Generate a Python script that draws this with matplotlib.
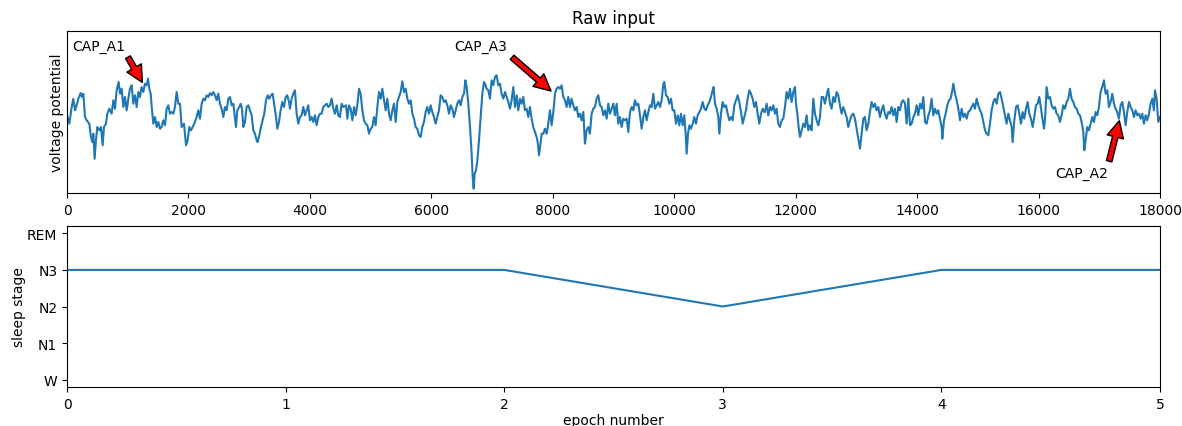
import matplotlib
matplotlib.use("Agg")
import matplotlib.pyplot as plt
import numpy as np

# ---------------- data ----------------
sample_idx = [
    0, 38, 77, 104, 132, 159, 187, 225, 247, 269, 296, 324, 368, 390, 417, 434, 455, 477, 499, 532,
    560, 587, 609, 642, 664, 697, 735, 763, 790, 818, 851, 873, 900, 928, 955, 983, 1010, 1037, 1065, 1092,
    1120, 1147, 1175, 1202, 1229, 1257, 1284, 1312, 1334, 1356, 1378, 1400, 1422, 1449, 1477, 1504, 1531, 1559, 1586, 1614,
    1641, 1669, 1696, 1723, 1751, 1778, 1806, 1833, 1861, 1888, 1927, 1960, 1987, 2014, 2042, 2069, 2097, 2135, 2163, 2190,
    2218, 2245, 2272,
    2300, 2327, 2355, 2382, 2410, 2437, 2464, 2492, 2519, 2547, 2574, 2602, 2629, 2657, 2684, 2711, 2739, 2755, 2783, 2805,
    2838, 2860, 2882, 2904, 2931, 2958, 2986, 3013, 3041, 3068, 3096, 3123, 3140, 3167, 3194, 3222, 3249, 3277, 3304, 3332,
    3359, 3387, 3414, 3442, 3463, 3491, 3518, 3546, 3573, 3601, 3628, 3656, 3672, 3699, 3727, 3754, 3782, 3809, 3837, 3864,
    3892, 3919, 3946, 3974, 4001, 4029, 4056, 4084, 4111, 4139, 4166, 4193, 4221, 4248, 4276, 4303, 4331, 4358, 4386, 4413,
    4441, 4468, 4495, 4523, 4550,
    4595, 4617, 4644, 4672, 4699, 4727, 4754, 4781, 4809, 4836, 4864, 4891, 4919, 4946, 4974, 5001, 5028, 5056, 5083, 5111,
    5138, 5166, 5193, 5221, 5248, 5275, 5303, 5330, 5358, 5385, 5413, 5440, 5468, 5495, 5522, 5550, 5577, 5605, 5632, 5660,
    5687, 5715, 5742, 5769, 5797, 5824, 5852, 5879, 5907, 5934, 5962, 5989, 6016, 6044, 6071, 6099, 6126, 6154, 6181, 6209,
    6236, 6263, 6291, 6318, 6346, 6373, 6401, 6428, 6456, 6483, 6510, 6538, 6560, 6582, 6609, 6637, 6664, 6681, 6697, 6714,
    6736, 6758, 6785, 6813, 6840, 6867,
    6883, 6911, 6938, 6966, 6993, 7021, 7048, 7075, 7103, 7130, 7158, 7185, 7213, 7240, 7268, 7295, 7322, 7350, 7377, 7405,
    7432, 7460, 7487, 7515, 7542, 7569, 7597, 7624, 7652, 7679, 7707, 7734, 7751, 7773, 7795, 7816, 7844, 7871, 7899, 7926,
    7954, 7981, 8009, 8036, 8063, 8091, 8118, 8146, 8173, 8201, 8228, 8256, 8283, 8310, 8338, 8365, 8393, 8420, 8448, 8475,
    8503, 8530, 8557, 8585, 8612, 8640, 8667, 8695, 8722, 8750, 8777, 8804, 8832, 8859, 8887, 8914, 8942, 8969, 8997, 9024,
    9052, 9079, 9106, 9134, 9161, 9189,
    9217, 9244, 9272, 9299, 9327, 9354, 9381, 9409, 9436, 9464, 9491, 9519, 9546, 9574, 9601, 9628, 9656, 9683, 9711, 9738,
    9766, 9793, 9821, 9837, 9865, 9892, 9919, 9947, 9974, 10002, 10029, 10057, 10084, 10111, 10139, 10166, 10188, 10205, 10227, 10249,
    10276, 10304, 10331, 10358, 10386, 10413, 10441, 10468, 10496, 10523, 10551, 10578, 10605, 10633, 10649, 10671, 10699, 10726, 10743, 10770,
    10798, 10825, 10853, 10880, 10907, 10935, 10962, 10990, 11017, 11045, 11072, 11100, 11127, 11154, 11182, 11209, 11237, 11264, 11292, 11319,
    11347, 11374, 11401, 11429, 11456, 11484,
    11494, 11522, 11549, 11577, 11604, 11632, 11659, 11686, 11714, 11741, 11769, 11796, 11824, 11851, 11879, 11906, 11933, 11961, 11988, 12005,
    12027, 12049, 12071, 12098, 12126, 12153, 12180, 12208, 12235, 12263, 12290, 12318, 12345, 12373, 12400, 12427, 12455, 12482, 12510, 12537,
    12565, 12592, 12620, 12647, 12675, 12702, 12729, 12757, 12784, 12812, 12839, 12867, 12894, 12922, 12949, 12976, 13004, 13031, 13059, 13086,
    13114, 13141, 13168, 13196, 13223, 13251, 13278, 13306, 13333, 13361, 13388, 13415, 13443, 13470, 13498, 13525, 13553, 13580, 13608, 13635,
    13663, 13690, 13717, 13745, 13772, 13800,
    13828, 13855, 13883, 13910, 13938, 13965, 13992, 14020, 14047, 14075, 14102, 14130, 14157, 14185, 14212, 14239, 14267, 14294, 14322, 14349,
    14377, 14404, 14415, 14443, 14470, 14497, 14525, 14552, 14580, 14596, 14624, 14651, 14679, 14706, 14733, 14761, 14788, 14816, 14843, 14871,
    14898, 14926, 14953, 14980, 15008, 15035, 15063, 15090, 15118, 15145, 15173, 15200, 15227, 15255, 15282, 15310, 15337, 15365, 15392, 15420,
    15447, 15474, 15502, 15529, 15557, 15573, 15601, 15628, 15656, 15683, 15710, 15738, 15765, 15793, 15820, 15848, 15875, 15903, 15930, 15957,
    15985, 16012, 16040, 16067, 16089, 16106,
    16133, 16160, 16188, 16215, 16243, 16270, 16297, 16325, 16352, 16380, 16407, 16435, 16462, 16490, 16517, 16544, 16572, 16599, 16627, 16654,
    16682, 16709, 16737, 16753, 16775, 16802, 16830, 16857, 16885, 16912, 16940, 16967, 16995, 17022, 17049, 17077, 17104, 17132, 17159, 17187,
    17214, 17242, 17269, 17296, 17324, 17351, 17379, 17406, 17434, 17461, 17489, 17516, 17543, 17571, 17598, 17626, 17653, 17681, 17708, 17736,
    17763, 17790, 17818, 17845, 17873, 17900, 17917, 17944, 17972, 18000,
]

voltage_uv = [
    23.7, 15.3, 32, 40.3, 28.7, 33.7, 40.3, 46, 42, 45.3, 22, 18.7, 15.3, 3.7, -3, 5.3, -19.7, -1.3, 12, 8.7,
    12, -6.3, 12, 15.3, 25.3, 30.3, 25.3, 38.7, 30.3, 48.7, 57, 45.3, 50.3, 32, 42, 28.7, 40.3, 50.3, 53.7, 35.3,
    43.7, 32, 47, 42, 52, 47, 55.3, 53.7, 60.3, 50.3, 45.3, 28.7, 15.3, 22, 12, 17, 10.3, 12, 18.7, 13.7,
    30.3, 33.7, 25.3, 27, 25.3, 32, 47, 35.3, 35.3, 12, 15.3, -6.3, -1.3, 12, 8.7, 12, 15.3, 22, 28.7, 20.3,
    35.3, 40.3, 38.7,
    43.7, 42, 46, 43.7, 47, 43.7, 38.7, 45.3, 35.3, 30.3, 22, 32, 28.7, 40.3, 42, 33.7, 35.3, 27, 12, 28.7,
    32, 35.3, 30.3, 12, 17, 32, 33.7, 28.7, 23.7, 8.7, 5.3, -1.3, -3, 3.7, 12, 18.7, 25.3, 38.7, 43.7, 40.3,
    43.7, 45.3, 33.7, 22, 10.3, 17, 28.7, 37, 32, 42, 43.7, 37, 30.3, 40.3, 45.3, 48.7, 25.3, 15.3, 22, 23.7,
    32, 23.7, 28.7, 33.7, 18.7, 22, 17, 23.7, 13.7, 22, 25.3, 25.3, 32, 33.7, 35.3, 32, 33.7, 40.3, 30.3, 25.3,
    33.7, 23.7, 22, 35.3, 32,
    33.7, 20.3, 33.7, 30.3, 18.7, 32, 23.7, 33.7, 50.3, 45.3, 28.7, 18.7, 15.3, 13.7, 5.3, 10.3, 12, 22, 13.7, 32,
    47, 40.3, 50.3, 38.7, 28.7, 40.3, 25.3, 18.7, 28.7, 35.3, 17, 37, 42, 47, 57.7, 47, 50.3, 40.3, 35.3, 38.7,
    25.3, 20.3, 12, 10.3, 3.7, 2, 12, 17, 27, 32, 25.3, 33.7, 27, 22, 15.3, 22, 28.7, 43.7, 42, 37,
    38.7, 33.7, 25.3, 33.7, 30.3, 22, 28.7, 35.3, 38.7, 33.7, 42, 45.3, 58.7, 52, 35.3, 12, -14.7, -38, -49.7, -34.7,
    -31.3, -21.3, -1.3, 22, 45.3, 57,
    55.3, 50.3, 48.7, 40.3, 58.7, 53.7, 62, 63.7, 53.7, 55.3, 45.3, 40.3, 47, 42, 37, 30.3, 38.7, 52, 32, 43.7,
    28.7, 40.3, 35.3, 42, 28.7, 30.3, 22, 32, 20.3, 12, 7, 2, -3, -16.3, -6.3, 5.3, 5.3, 10.3, 5.3, 15.3,
    28.7, 13.7, 27, 45.3, 50.3, 52, 50.3, 53.7, 42, 38.7, 32, 42, 32, 40.3, 33.7, 28.7, 32, 22, 25.3, 18.7,
    27, -4.7, 8.7, 12, 5.3, 25.3, 30.3, 32, 40.3, 43.7, 33.7, 32, 23.7, 28.7, 20.3, 35.3, 25.3, 30.3, 35.3, 23.7,
    35.3, 15.3, 22, 12, 20.3, 18.7,
    20.3, 7, 27, 32, 28.7, 38.7, 33.7, 35.3, 23.7, 10.3, 22, 28.7, 18.7, 27, 33.7, 32, 45.3, 30.3, 33.7, 37,
    32, 38.7, 55.3, 57, 43.7, 42, 35.3, 40.3, 28.7, 28.7, 15.3, 23.7, 13.7, 25.3, 13.7, 23.7, 5.3, -14.7, 5.3, 13.7,
    10.3, 15.3, 22, 15.3, 23.7, 27, 30.3, 37, 30.3, 28.7, 33.7, 37, 42, 48.7, 52, 35.3, 30.3, 22, 5.3, 25.3,
    37, 32, 33.7, 25.3, 18.7, 22, 18.7, 33.7, 38.7, 43.7, 37, 27, 15.3, 22, 28.7, 40.3, 48.7, 45.3, 40.3, 32,
    37, 25.3, 15.3, 25.3, 30.3, 27,
    27, 35.3, 23.7, 32, 28.7, 33.7, 25.3, 30.3, 15.3, 12, 18.7, 20.3, 32, 47, 40.3, 50.3, 37, 47, 52, 35.3,
    25.3, 12, 2, 8.7, 15.3, 12, 23.7, 8.7, 13.7, 8.7, 40.3, 25.3, 18.7, 13.7, 22, 42, 42, 35.3, 43.7, 50.3,
    35.3, 30.3, 42, 37, 47, 43.7, 33.7, 25.3, 32, 27, 22, 12, 18.7, 23.7, 25.3, 20.3, 10.3, 0.3, -9.7, 5.3,
    20.3, 22, 8.7, 15.3, 27, 37, 32, 35.3, 28.7, 32, 22, 28.7, 33.7, 25.3, 20.3, 27, 25.3, 32, 23.7, 30.3,
    17, 32, 28.7, 37, 38.7, 35.3,
    15.3, 40.3, 13.7, 15.3, 22, 25.3, 33.7, 23.7, 35.3, 30.3, 42, 17, 15.3, 23.7, 28.7, 40.3, 23.7, 30.3, 25.3, 28.7,
    20.3, 12, 0.3, 18.7, 25.3, 33.7, 38.7, 40.3, 48.7, 55.3, 45.3, 38.7, 30.3, 18.7, 30.3, 22, 25.3, 20.3, 27, 28.7,
    32, 35.3, 30.3, 40.3, 33.7, 28.7, 25.3, 17, 8.7, 5.3, 3.7, 15.3, 28.7, 37, 40.3, 35.3, 45.3, 47, 40.3, 32,
    23.7, 15.3, 25.3, 18.7, 12, -3, 18.7, 32, 33.7, 25.3, 15.3, 27, 20.3, 30.3, 37, 25.3, 20.3, 12, 22, 33.7,
    35.3, 42, 30.3, 18.7, 10.3, 18.7,
    52, 40.3, 42, 33.7, 30.3, 32, 25.3, 23.7, 17, 23.7, 33.7, 30.3, 37, 40.3, 50.3, 40.3, 37, 32, 30.3, 25.3,
    23.7, 17, 7, -11.3, -1.3, 12, 8.7, 15.3, 22, 17, 27, 23.7, 32, 47, 52, 58.7, 45.3, 48.7, 32, 37,
    45.3, 35.3, 30.3, 27, 20.3, 33.7, 37, 27, 13.7, 27, 37, 32, 28.7, 22, 28.7, 23.7, 25.3, 20.3, 25.3, 15.3,
    23.7, 18.7, 25.3, 35.3, 40.3, 28.7, 48.7, 40.3, 17, 22,
]

cap_labels = ["CAP_A1", "CAP_A3", "CAP_A2"]
cap_samples = [1256, 8009, 17341]
cap_values = [55, 46, 20.7]

epochs = [0, 1, 2, 3, 4, 5]
stage_names = ["W", "N1", "N2", "N3", "REM"]
hypnogram = ["N3", "N3", "N3", "N2", "N3", "N3"]

# ---------------- plot ----------------
W, H = 1182, 427
fig = plt.figure(figsize=(W / 100, H / 100), dpi=100)

def box(l, t, r, b):
    return [l / W, 1 - b / H, (r - l) / W, (b - t) / H]

ax1 = fig.add_axes(box(67, 32, 1160, 194))
ax2 = fig.add_axes(box(67, 227, 1160, 388))

ax1.plot(sample_idx, voltage_uv, color="tab:blue", lw=1.5)
ax1.set_xlim(0, 18000)
ax1.set_ylim(-54, 108)
ax1.set_yticks([])
ax1.set_ylabel("voltage potential", labelpad=2.5)
ax1.set_title("Raw input")

text_pos = [(90, 89.3), (6375, 89.3), (16270, -38.3)]
for lab, xs, ys, tp in zip(cap_labels, cap_samples, cap_values, text_pos):
    ax1.annotate(lab, xy=(xs, ys), xytext=tp, textcoords="data",
                 arrowprops=dict(facecolor="red", edgecolor="black", shrink=0.05,
                                 width=4, headwidth=12, headlength=12, lw=1))

stage_val = [stage_names.index(s) for s in hypnogram]
ax2.plot(epochs, stage_val, color="tab:blue", lw=1.5)
ax2.set_xlim(0, 5)
ax2.set_ylim(-0.2, 4.2)
ax2.set_yticks(range(len(stage_names)))
ax2.set_yticklabels(stage_names)
ax2.set_ylabel("sleep stage", labelpad=1)
ax2.set_xlabel("epoch number", labelpad=1.5)

fig.savefig("out.png", dpi=100)
